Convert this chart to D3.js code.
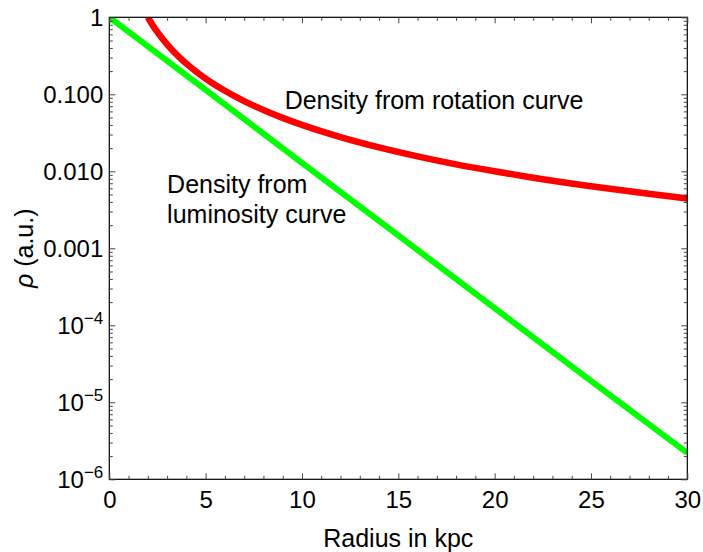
<!DOCTYPE html>
<html><head><meta charset="utf-8">
<script src="https://cdn.jsdelivr.net/npm/d3@7"></script>
<style>
body{margin:0;background:#fff;}
svg{display:block;font-family:"Liberation Sans",Arial,sans-serif;}
</style></head>
<body>
<svg id="chart" width="703" height="552"></svg>
<script>
// Data
const rotationRadius = [2, 2.25, 2.5, 2.75, 3, 3.25, 3.5, 3.75, 4, 4.5, 5, 5.5, 6, 7, 8, 9, 10, 12, 14, 16, 18, 20, 22, 25, 28, 30];
const rotationDensity = [1, 0.79, 0.64, 0.529, 0.444, 0.379, 0.327, 0.284, 0.25, 0.198, 0.16, 0.132, 0.111, 0.0816, 0.0625, 0.0494, 0.04, 0.0278, 0.0204, 0.0156, 0.0123, 0.01, 0.00826, 0.0064, 0.0051, 0.00444];
const luminosityRadius = [0, 5, 10, 15, 20, 25, 30];
const luminosityDensity = [1, 0.114, 0.0129, 0.00147, 1.67e-4, 1.9e-5, 2.2e-6];
const xTicks = [0, 5, 10, 15, 20, 25, 30];
const yTicks = [1, 0.1, 0.01, 0.001, 1e-4, 1e-5, 1e-6];
const yTickLabels = ["1", "0.100", "0.010", "0.001", "10|-4", "10|-5", "10|-6"];
const annotations = [
  {lines: ["Density from rotation curve"], x: 9.1, y: 0.064},
  {lines: ["Density from", "luminosity curve"], x: 3.0, y: 0.0052}
];

const svg = d3.select("#chart");
const L = 109.3, R = 687.3, T = 17.3, B = 479.3;
const x = d3.scaleLinear().domain([0, 30]).range([L, R]);
const y = d3.scaleLog().domain([1e-6, 1]).range([B, T]);

svg.append("clipPath").attr("id", "clip").append("rect")
  .attr("x", L).attr("y", T).attr("width", R - L).attr("height", B - T);

// minor ticks
const xMinor = d3.range(0, 31, 1).filter(v => v % 5 !== 0);
const yMinor = [];
for (let e = -6; e < 0; e++) for (let m = 2; m <= 9; m++) yMinor.push(m * Math.pow(10, e));

function tickAxes() {
  const g = svg.append("g").attr("class", "axes");
  // bottom
  g.append("g").attr("transform", `translate(0,${B})`)
    .call(d3.axisBottom(x).tickValues(xTicks).tickSizeInner(-6).tickSizeOuter(0).tickFormat(d => d))
    .call(a => a.selectAll("text").attr("y", 29).attr("dy", 0).style("font-size", "24px").style("fill", "#000"));
  g.append("g").attr("transform", `translate(0,${B})`)
    .call(d3.axisBottom(x).tickValues(xMinor).tickSizeInner(-3.5).tickSizeOuter(0).tickFormat(""));
  // top
  g.append("g").attr("transform", `translate(0,${T})`)
    .call(d3.axisTop(x).tickValues(xTicks).tickSizeInner(-6).tickSizeOuter(0).tickFormat(""));
  g.append("g").attr("transform", `translate(0,${T})`)
    .call(d3.axisTop(x).tickValues(xMinor).tickSizeInner(-3.5).tickSizeOuter(0).tickFormat(""));
  // left
  g.append("g").attr("transform", `translate(${L},0)`)
    .call(d3.axisLeft(y).tickValues(yTicks).tickSizeInner(-6).tickSizeOuter(0).tickFormat(""));
  g.append("g").attr("transform", `translate(${L},0)`)
    .call(d3.axisLeft(y).tickValues(yMinor).tickSizeInner(-3.5).tickSizeOuter(0).tickFormat(""));
  // right
  g.append("g").attr("transform", `translate(${R},0)`)
    .call(d3.axisRight(y).tickValues(yTicks).tickSizeInner(-6).tickSizeOuter(0).tickFormat(""));
  g.append("g").attr("transform", `translate(${R},0)`)
    .call(d3.axisRight(y).tickValues(yMinor).tickSizeInner(-3.5).tickSizeOuter(0).tickFormat(""));
  g.selectAll(".domain").remove();
  g.selectAll(".tick line").attr("stroke", "#444").attr("stroke-width", 1);

  // y tick labels
  yTicks.forEach((v, i) => {
    const lab = yTickLabels[i];
    const t = svg.append("text").attr("x", L - 6).attr("y", y(v) + 8.5)
      .attr("text-anchor", "end").style("font-size", "24px").attr("fill", "#000");
    if (lab.includes("|")) {
      const [base, ex] = lab.split("|");
      t.append("tspan").text(base);
      t.append("tspan").text("\u2212" + ex.replace("-", "")).attr("dy", -10).style("font-size", "17px");
    } else t.text(lab);
  });
}

// curves
const line = d3.line().x(d => x(d[0])).y(d => y(d[1]));
const plot = svg.append("g").attr("clip-path", "url(#clip)");
plot.append("path").datum(luminosityRadius.map((r, i) => [r, luminosityDensity[i]]))
  .attr("d", line).attr("fill", "none").attr("stroke", "#00ff00").attr("stroke-width", 6);
plot.append("path").datum(rotationRadius.map((r, i) => [r, rotationDensity[i]]))
  .attr("d", line.curve(d3.curveMonotoneX)).attr("fill", "none").attr("stroke", "#ff0000").attr("stroke-width", 6.5);

// frame
svg.append("rect").attr("x", L).attr("y", T).attr("width", R - L).attr("height", B - T)
  .attr("fill", "none").attr("stroke", "#000").attr("stroke-width", 1.2);

tickAxes();

// annotations
annotations.forEach(a => {
  const t = svg.append("text").attr("x", x(a.x)).attr("y", y(a.y))
    .style("font-size", "25px").attr("fill", "#000");
  a.lines.forEach((s, i) => t.append("tspan").attr("x", x(a.x)).attr("dy", i === 0 ? 0 : 30).text(s));
});

// axis titles
svg.append("text").attr("x", (L + R) / 2).attr("y", 547).attr("text-anchor", "middle")
  .style("font-size", "25px").attr("fill", "#000").text("Radius in kpc");
const yl = svg.append("text").attr("transform", `translate(33,${(T + B) / 2}) rotate(-90)`)
  .attr("text-anchor", "middle").style("font-size", "25px").attr("fill", "#000");
yl.append("tspan").style("font-style", "italic").text("ρ");
yl.append("tspan").text(" (a.u.)");
</script>
</body></html>
